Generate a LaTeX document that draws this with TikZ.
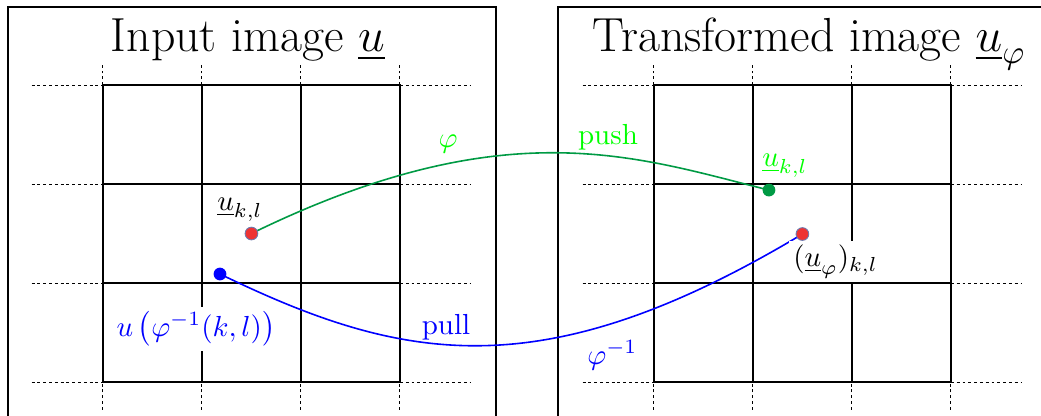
\documentclass[tikz,border=0pt]{standalone}
\usepackage{fix-cm}
\usepackage{amsmath}
\usepackage{fontspec}
\usepackage{tikz}
\usetikzlibrary{calc}
\definecolor{pushgreen}{HTML}{009A44}
\definecolor{labelgreen}{HTML}{00FF00}
\definecolor{pullblue}{HTML}{0000FF}
\definecolor{dotred}{HTML}{EE3333}
\definecolor{dotrim}{HTML}{6A7BB0}
\tikzset{
  frame/.style={draw=black, line width=0.75pt},
  gridline/.style={draw=black, line width=0.75pt},
  extline/.style={draw=black, line width=0.35pt, dash pattern=on 1pt off 1pt},
  pushline/.style={draw=pushgreen, line width=0.55pt},
  pullline/.style={draw=pullblue, line width=0.55pt},
  pixdot/.style={circle, inner sep=0pt, minimum size=4.4pt},
  title/.style={font=\fontsize{16.5}{19}\selectfont, anchor=base},
  lab/.style={inner sep=1.5pt}
}

\begin{document}
\begin{tikzpicture}[x=1.2cm,y=1.2cm]
  \path[use as bounding box] (-1.04,-0.343) rectangle (9.475,3.859);

  % image frames
  \draw[frame] (-0.96,-1) rectangle (3.97,3.788);
  \draw[frame] (4.596,-1) rectangle (10,3.788);

  % pixel grids
  \foreach \dx in {0,5.565} {
    \foreach \i in {0,...,3} {
      \draw[extline] (\dx-0.72,\i) -- (\dx,\i);
      \draw[extline] (\dx+3,\i) -- (\dx+3.72,\i);
      \draw[extline] (\dx+\i,-0.28) -- (\dx+\i,0);
      \draw[extline] (\dx+\i,3) -- (\dx+\i,3.23);
      \draw[gridline] (\dx-0.01,\i) -- (\dx+3.01,\i);
      \draw[gridline] (\dx+\i,-0.01) -- (\dx+\i,3.01);
    }
  }

  \node[title] (intitle) at (1.463,3.34) {Input image $\underline{u}$};
  \node[title] (outtitle) at (7.135,3.34) {Transformed image $\underline{u}_\varphi$};

  \coordinate (src) at (1.5,1.5);
  \coordinate (pre) at (1.182,1.091);
  \coordinate (img) at (6.727,1.939);
  \coordinate (dst) at (7.065,1.495);

  \draw[pushline] (src) .. controls +(2.58,1.26) and +(-1.33,0.33) .. (img);
  \draw[pullline] (pre) .. controls +(1.82,-0.88) and +(-2.65,-1.59) .. (dst);

  \node[pixdot, fill=dotred, draw=dotrim, line width=0.3pt] (srcdot) at (src) {};
  \node[pixdot, fill=pullblue] (predot) at (pre) {};
  \node[pixdot, fill=pushgreen] (imgdot) at (img) {};
  \node[pixdot, fill=dotred, draw=dotrim, line width=0.3pt] (dstdot) at (dst) {};

  \node[lab] (srclabel) at (1.384,1.737) {$\underline{u}_{k,l}$};
  \node[lab, fill=white, text=pullblue] (prelabel) at (0.939,0.535) {$u\left(\varphi^{-1}(k,l)\right)$};
  \node[text=pullblue] (pulllabel) at (3.465,0.551) {pull};
  \node[text=labelgreen] (philabel) at (3.485,2.399) {$\varphi$};
  \node[text=labelgreen] (pushlabel) at (5.101,2.475) {push};
  \node[text=pullblue] (phiinvlabel) at (5.146,0.268) {$\varphi^{-1}$};
  \node[text=labelgreen] (imglabel) at (6.889,2.182) {$\underline{u}_{k,l}$};
  \node[lab, fill=white] (dstlabel) at (7.399,1.217) {$(\underline{u}_\varphi)_{k,l}$};
\end{tikzpicture}
\end{document}
